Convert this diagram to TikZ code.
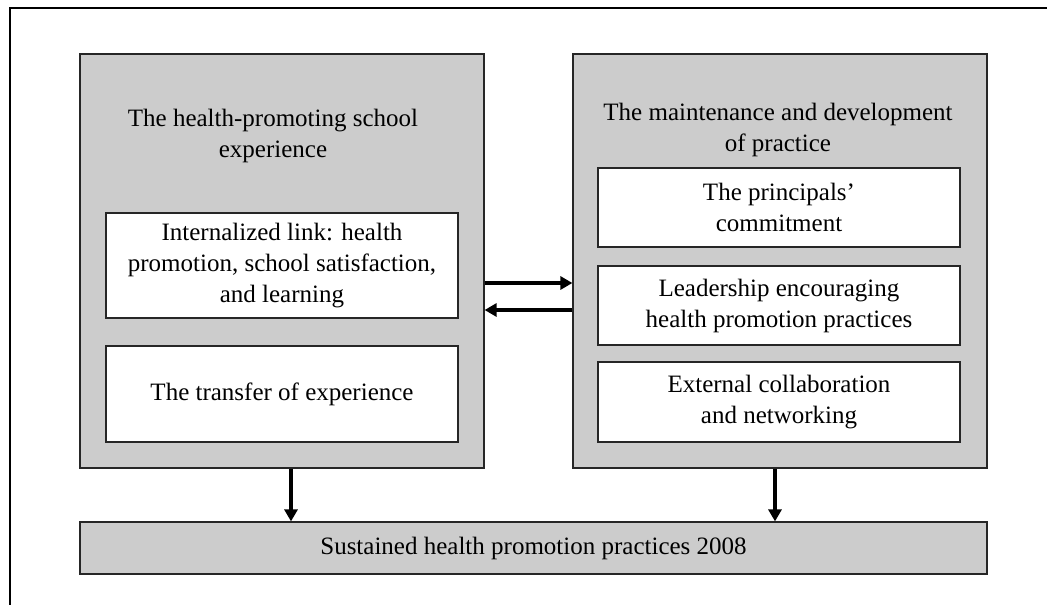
\documentclass[tikz,border=0pt]{standalone}
\usepackage{fontspec}
\setmainfont{Liberation Serif}
\usetikzlibrary{arrows.meta}
\definecolor{boxgray}{HTML}{CCCCCC}
\tikzset{
  bigbox/.style={draw=black!85, line width=1.2pt, fill=boxgray, inner sep=0pt},
  innerbox/.style={draw=black!85, line width=1.2pt, fill=white, inner sep=0pt, align=center, font=\fontsize{25}{31}\selectfont},
  titletext/.style={inner sep=0pt, font=\fontsize{25}{31}\selectfont},
  thickarrow/.style={line width=4pt, -{Triangle[length=12pt,width=13pt]}}
}
\begin{document}
\begin{tikzpicture}[x=1pt,y=-1pt]
\useasboundingbox (0,0) rectangle (1047,605);
\draw[line width=1.2pt] (10,605) -- (10,8) -- (1047,8);

\node[bigbox, minimum width=404pt, minimum height=414pt] (leftbig) at (282,261) {};
\node[bigbox, minimum width=414pt, minimum height=414pt] (rightbig) at (780,261) {};
\node[bigbox, minimum width=907pt, minimum height=52pt, font=\fontsize{25}{31}\selectfont] (bottom) at (533.5,548) {Sustained health promotion practices 2008};

\node[titletext, align=center] (ltitle) at (273,136) {The health-promoting school\\experience};
\node[titletext, align=center] (rtitle) at (778,130) {The maintenance and development\\of practice};

\node[innerbox, minimum width=352pt, minimum height=105pt] (link) at (282,265.5) {Internalized link: health\\promotion, school satisfaction,\\and learning};
\node[innerbox, minimum width=352pt, minimum height=96pt] (transfer) at (282,394) {The transfer of experience};

\node[innerbox, minimum width=362pt, minimum height=79pt] (commit) at (779,207.5) {The principals'\\commitment};
\node[innerbox, minimum width=362pt, minimum height=79pt] (lead) at (779,305.5) {Leadership encouraging\\health promotion practices};
\node[innerbox, minimum width=362pt, minimum height=80pt] (ext) at (779,402) {External collaboration\\and networking};

\draw[thickarrow] ([yshift=-22pt]leftbig.east) -- ([yshift=-22pt]rightbig.west);
\draw[thickarrow] ([yshift=-49pt]rightbig.west) -- ([yshift=-49pt]leftbig.east);
\draw[thickarrow] ([xshift=9pt]leftbig.south) -- ([xshift=9pt]leftbig.south |- bottom.north);
\draw[thickarrow] ([xshift=-5pt]rightbig.south) -- ([xshift=-5pt]rightbig.south |- bottom.north);
\end{tikzpicture}
\end{document}
